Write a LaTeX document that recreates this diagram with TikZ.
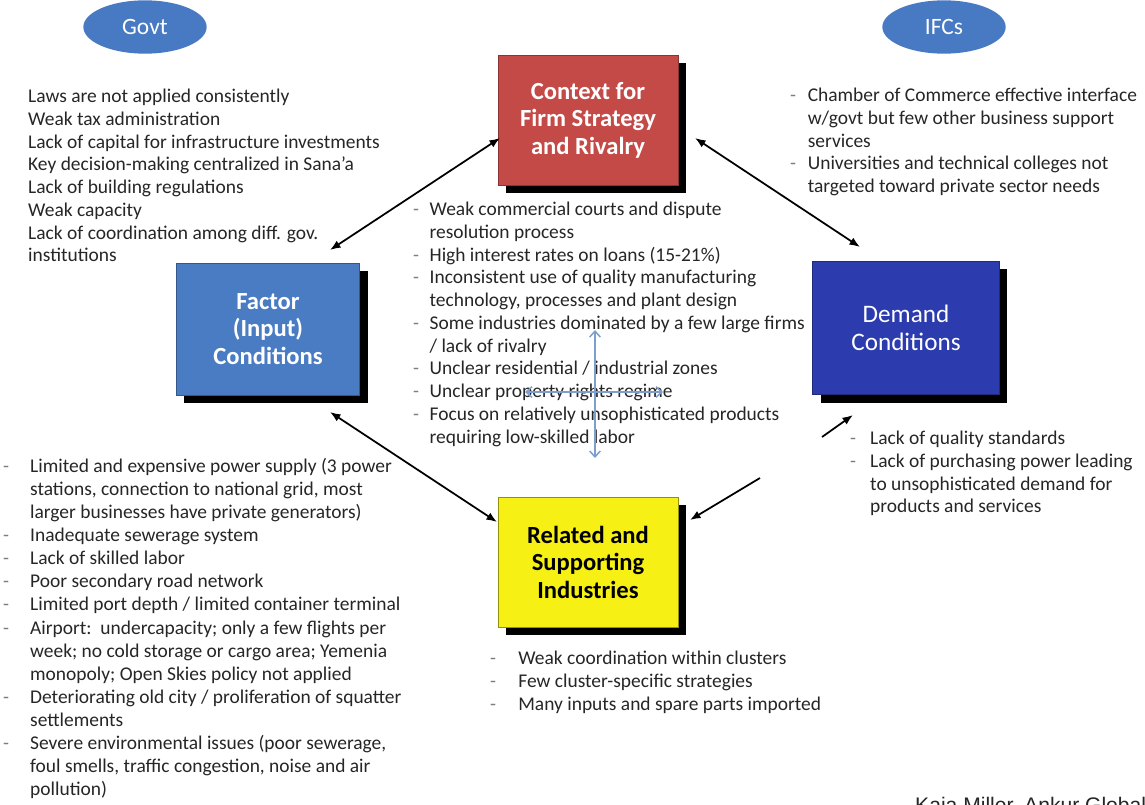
\documentclass[tikz,border=0pt]{standalone}
\usepackage{fontspec}
\setmainfont{Carlito}
\newfontfamily\creditfont{Liberation Sans}
\usetikzlibrary{arrows.meta,shapes.geometric,shadows}

\definecolor{ctxred}{RGB}{196,74,72}
\definecolor{facblue}{RGB}{74,124,196}
\definecolor{demblue}{RGB}{44,60,174}
\definecolor{relyellow}{RGB}{246,240,20}
\definecolor{ovalblue}{RGB}{72,122,196}
\definecolor{crossblue}{RGB}{126,158,206}
\definecolor{txtgray}{RGB}{38,38,38}

\newcommand{\dsh}[1]{\makebox[#1][l]{\textcolor{txtgray!60}{-}}}
\newcommand{\ind}[1]{\hspace*{#1}}

\begin{document}
\begin{tikzpicture}[x=0.03cm, y=-0.03cm,
  force/.style={rectangle, minimum width=5.4cm, minimum height=3.9cm, align=center,
    font=\fontsize{21}{23.5}\selectfont\bfseries,
    drop shadow={shadow xshift=0.24cm, shadow yshift=-0.24cm, fill=black, opacity=1}},
  actor/.style={ellipse, fill=ovalblue, text=white, minimum width=3.7cm, minimum height=1.6cm,
    font=\fontsize{20}{24}\selectfont},
  notes/.style={anchor=north west, inner sep=0pt, align=left, text=txtgray,
    font=\fontsize{16.6}{19.4}\selectfont},
  link/.style={{Latex[length=9pt,width=7pt]}-{Latex[length=9pt,width=7pt]}, line width=1.5pt},
  cross/.style={{Straight Barb[length=5pt,width=9pt]}-{Straight Barb[length=5pt,width=9pt]},
    draw=crossblue, line width=1.3pt}]
  \useasboundingbox[fill=white] (0,0) rectangle (1145,804);

  % Actors
  \node[actor] (govt) at (145,27) {Govt};
  \node[actor] (ifcs) at (944,27) {IFCs};

  % Four forces
  \node[force, fill=ctxred, draw=ctxred!70!black, text=white] (context) at (588,120)
    {Context for\\Firm Strategy\\and Rivalry};
  \node[force, fill=facblue, draw=facblue!70!black, text=white, minimum width=5.5cm, minimum height=3.95cm]
    (factor) at (268,329) {Factor\\(Input)\\Conditions};
  \node[force, fill=demblue, draw=demblue!70!black, text=white, minimum width=5.6cm, minimum height=4cm,
    font=\fontsize{21.5}{24}\selectfont] (demand) at (906,328) {Demand\\Conditions};
  \node[force, fill=relyellow, draw=relyellow!60!black, text=black] (related) at (588,562)
    {Related and\\Supporting\\Industries};

  % Notes
  \node[notes] (govtNotes) at (28,89) {Laws are not applied consistently\\
    Weak tax administration\\
    Lack of capital for infrastructure investments\\
    Key decision-making centralized in Sana’a\\
    Lack of building regulations\\
    Weak capacity\\
    Lack of coordination among diff. gov.\\
    institutions};
  \node[notes] (ifcsNotes) at (790,88) {\dsh{15pt}Chamber of Commerce effective interface\\
    \ind{15pt}w/govt but few other business support\\
    \ind{15pt}services\\
    \dsh{15pt}Universities and technical colleges not\\
    \ind{15pt}targeted toward private sector needs};
  \node[notes] (contextNotes) at (413,202) {\dsh{14pt}Weak commercial courts and dispute\\
    \ind{14pt}resolution process\\
    \dsh{14pt}High interest rates on loans (15-21\%)\\
    \dsh{14pt}Inconsistent use of quality manufacturing\\
    \ind{14pt}technology, processes and plant design\\
    \dsh{14pt}Some industries dominated by a few large firms\\
    \ind{14pt}/ lack of rivalry\\
    \dsh{14pt}Unclear residential / industrial zones\\
    \dsh{14pt}Unclear property rights regime\\
    \dsh{14pt}Focus on relatively unsophisticated products\\
    \ind{14pt}requiring low-skilled labor};
  \node[notes] (demandNotes) at (850,431) {\dsh{17pt}Lack of quality standards\\
    \dsh{17pt}Lack of purchasing power leading\\
    \ind{17pt}to unsophisticated demand for\\
    \ind{17pt}products and services};
  \node[notes, font=\fontsize{16.6}{19.7}\selectfont] (factorNotes) at (3,458)
    {\dsh{23pt}Limited and expensive power supply (3 power\\
    \ind{23pt}stations, connection to national grid, most\\
    \ind{23pt}larger businesses have private generators)\\
    \dsh{23pt}Inadequate sewerage system\\
    \dsh{23pt}Lack of skilled labor\\
    \dsh{23pt}Poor secondary road network\\
    \dsh{23pt}Limited port depth / limited container terminal\\
    \dsh{23pt}Airport:\ \ undercapacity; only a few flights per\\
    \ind{23pt}week; no cold storage or cargo area; Yemenia\\
    \ind{23pt}monopoly; Open Skies policy not applied\\
    \dsh{23pt}Deteriorating old city / proliferation of squatter\\
    \ind{23pt}settlements\\
    \dsh{23pt}Severe environmental issues (poor sewerage,\\
    \ind{23pt}foul smells, traffic congestion, noise and air\\
    \ind{23pt}pollution)};
  \node[notes] (relatedNotes) at (490,651) {\dsh{24pt}Weak coordination within clusters\\
    \dsh{24pt}Few cluster-specific strategies\\
    \dsh{24pt}Many inputs and spare parts imported};
  \node[anchor=base west, inner sep=0pt, font=\creditfont\fontsize{18}{21}\selectfont, text=txtgray]
    (credit) at (915,812) {Kaia Miller, Ankur Global};

  % Arrow ends
  \coordinate (ctxLeft) at (500,138);
  \coordinate (facTop) at (330,250);
  \coordinate (ctxRight) at (695,138);
  \coordinate (demTop) at (860,247);
  \coordinate (facBottom) at (330,412);
  \coordinate (relLeft) at (497,522);
  \coordinate (relRight) at (690,520);
  \coordinate (gapLow) at (760,478);
  \coordinate (gapHigh) at (822,437);
  \coordinate (demBottom) at (853,415);

  % Edges
  \draw[link] (ctxLeft) -- (facTop);
  \draw[link] (ctxRight) -- (demTop);
  \draw[link] (facBottom) -- (relLeft);
  \draw[-{Latex[length=9pt,width=7pt]}, line width=1.5pt] (gapLow) -- (relRight);
  \draw[-{Latex[length=9pt,width=7pt]}, line width=1.5pt] (gapHigh) -- (demBottom);

  % Cross in the middle
  \coordinate (crossN) at (595,330);
  \coordinate (crossS) at (595,458);
  \coordinate (crossW) at (525,392);
  \coordinate (crossE) at (663,392);
  \draw[cross] (crossN) -- (crossS);
  \draw[cross] (crossW) -- (crossE);
\end{tikzpicture}
\end{document}
